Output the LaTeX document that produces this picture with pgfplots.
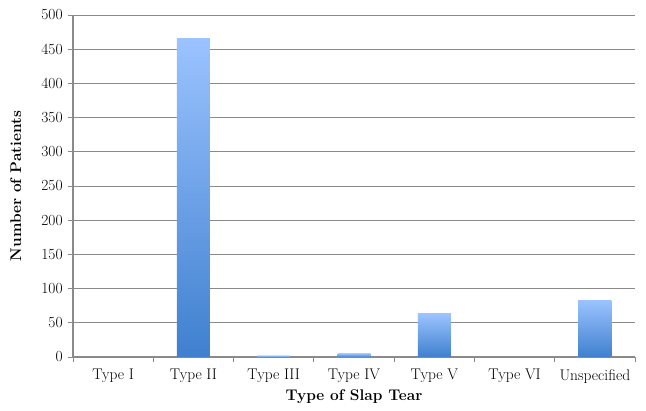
\documentclass[border=0pt]{standalone}
\usepackage{fontspec}
\setmainfont{Latin Modern Roman}
\usepackage{pgfplots}
\pgfplotsset{compat=1.18}
\definecolor{bartop}{HTML}{9BC3FF}
\definecolor{barbot}{HTML}{3F80CF}
\definecolor{axgray}{HTML}{8A8A8A}
\begin{document}
\fontsize{15.5}{18}\selectfont
\begin{tikzpicture}
\path[use as bounding box] (-73bp,-53.3bp) rectangle (573bp,357bp);
\begin{axis}[
  scale only axis,
  width=562bp, height=342bp,
  xmin=-0.5, xmax=6.5, ymin=0, ymax=500,
  axis x line*=bottom, axis y line*=left,
  axis line style={axgray, line width=1.2bp},
  ytick={0,50,...,500},
  /pgf/number format/assume math mode=true,
  ymajorgrids,
  grid style={axgray, line width=0.8bp},
  tick align=outside,
  y tick style={axgray, line width=0.8bp},
  major tick length=5bp,
  xtick={0,...,6},
  xticklabels={Type I,Type II,Type III,Type IV,Type V,Type VI,Unspecified},
  x tick style={draw=none},
  minor xtick={-0.5,0.5,...,6.5},
  minor x tick style={axgray, line width=0.8bp, draw=axgray},
  minor tick length=5bp,
  xticklabel style={font=\fontsize{15.5}{18}\selectfont, yshift=-2bp},
  yticklabel style={font=\fontsize{15.5}{18}\selectfont},
  xlabel={\textbf{Type of Slap Tear}},
  ylabel={\textbf{Number of Patients}},
  label style={font=\fontsize{15.5}{18}\selectfont},
  xlabel style={at={(axis description cs:0.5,-0.117)}, anchor=center},
  ylabel style={at={(axis description cs:-0.102,0.5)}, anchor=center, rotate=0},
  ybar, bar width=33bp, bar shift=0bp,
  every axis plot/.append style={draw=none, shading=axis, top color=bartop, bottom color=barbot, shading angle=0},
]
\addplot coordinates {(0,0)};
\addplot coordinates {(1,466)};
\addplot coordinates {(2,2)};
\addplot coordinates {(3,5)};
\addplot coordinates {(4,63)};
\addplot coordinates {(5,0)};
\addplot coordinates {(6,83)};
\end{axis}
\end{tikzpicture}
\end{document}
